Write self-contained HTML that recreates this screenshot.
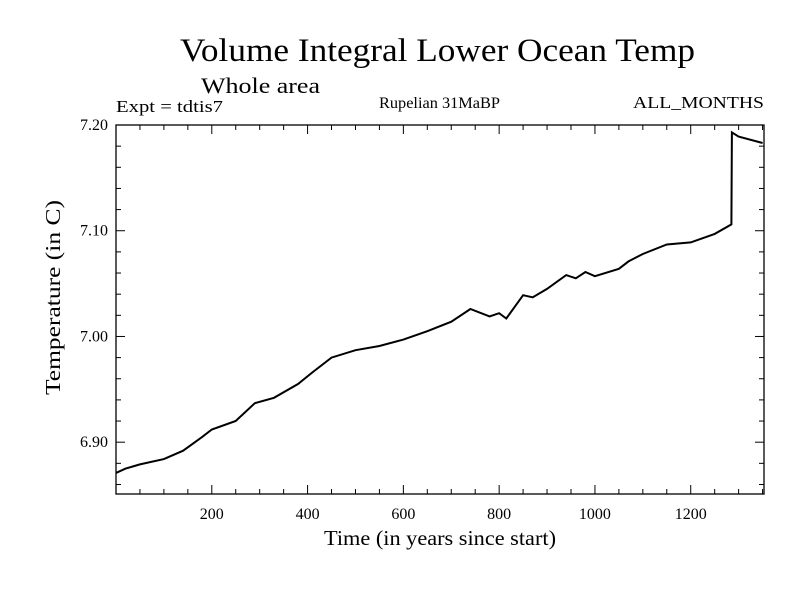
<!DOCTYPE html>
<html><head><meta charset="utf-8"><style>
body{margin:0;background:#fff}
svg text{font-family:"Liberation Serif",serif;fill:#000}
</style></head><body>
<svg width="800" height="600">
<text x="180" y="61" font-size="33" textLength="515" lengthAdjust="spacingAndGlyphs">Volume Integral Lower Ocean Temp</text>
<text x="201" y="93" font-size="22" textLength="119" lengthAdjust="spacingAndGlyphs">Whole area</text>
<text x="116" y="112" font-size="17" textLength="107" lengthAdjust="spacingAndGlyphs">Expt = tdtis7</text>
<text x="379" y="108" font-size="16" textLength="121" lengthAdjust="spacingAndGlyphs">Rupelian  31MaBP</text>
<text x="633" y="108" font-size="17" textLength="131" lengthAdjust="spacingAndGlyphs">ALL_MONTHS</text>
<text x="324" y="545" font-size="21" textLength="232" lengthAdjust="spacingAndGlyphs">Time (in years since start)</text>
<text transform="translate(60,395) rotate(-90)" font-size="21" textLength="195" lengthAdjust="spacingAndGlyphs">Temperature (in C)</text>
<g id="axes"></g>
<rect x="116" y="125" width="648" height="369" fill="none" stroke="#000" stroke-width="1.3"/>
<path id="line" fill="none" stroke="#000" stroke-width="2"/>
</svg>
<script>
const years=[0,20,50,100,140,180,200,250,290,330,380,410,450,500,550,600,650,700,740,780,800,815,850,870,900,940,960,980,1000,1050,1070,1100,1150,1200,1250,1285,1286,1300,1350];
const temps=[6.871,6.875,6.879,6.884,6.892,6.905,6.912,6.920,6.937,6.942,6.955,6.966,6.980,6.987,6.991,6.997,7.005,7.014,7.026,7.019,7.022,7.017,7.039,7.037,7.045,7.058,7.055,7.061,7.057,7.064,7.071,7.078,7.087,7.089,7.097,7.106,7.193,7.189,7.183];
const xTicks=[200,400,600,800,1000,1200];
const yTicks=[6.90,7.00,7.10,7.20];
const X0=116,X1=764,Y0=494,Y1=125,XMIN=0,XMAX=1353,YMIN=6.851,YMAX=7.200;
const sx=v=>X0+(v-XMIN)/(XMAX-XMIN)*(X1-X0);
const sy=v=>Y0-(v-YMIN)/(YMAX-YMIN)*(Y0-Y1);
const NS="http://www.w3.org/2000/svg",g=document.getElementById('axes');
function ln(x1,y1,x2,y2){const l=document.createElementNS(NS,'line');l.setAttribute('x1',x1);l.setAttribute('y1',y1);l.setAttribute('x2',x2);l.setAttribute('y2',y2);l.setAttribute('stroke','#000');


g.appendChild(l);}
function tx(x,y,s,a,n){const t=document.createElementNS(NS,'text');t.setAttribute('x',x);t.setAttribute('y',y);t.setAttribute('font-size','16');t.setAttribute('text-anchor',a);t.textContent=s;


g.appendChild(t);}
for(let v=50;v<XMAX;v+=50){const x=sx(v),L=v%200==0?9:5;ln(x,Y0,x,Y0-L);ln(x,Y1,x,Y1+L);}
for(let v=6.86;v<7.201;v+=0.02){const y=sy(v),L=Math.abs(Math.round(v*100)%10)==0?9:5;ln(X0,y,X0+L,y);ln(X1,y,X1-L,y);}
xTicks.forEach(v=>tx(sx(v),519,String(v),'middle','x-tick-label'));
yTicks.forEach(v=>tx(108,sy(v)+5,v.toFixed(2),'end','y-tick-label'));
document.getElementById('line').setAttribute('d',years.map((v,i)=>(i?'L':'M')+sx(v).toFixed(1)+','+sy(temps[i]).toFixed(1)).join(''));
</script>
</body></html>
